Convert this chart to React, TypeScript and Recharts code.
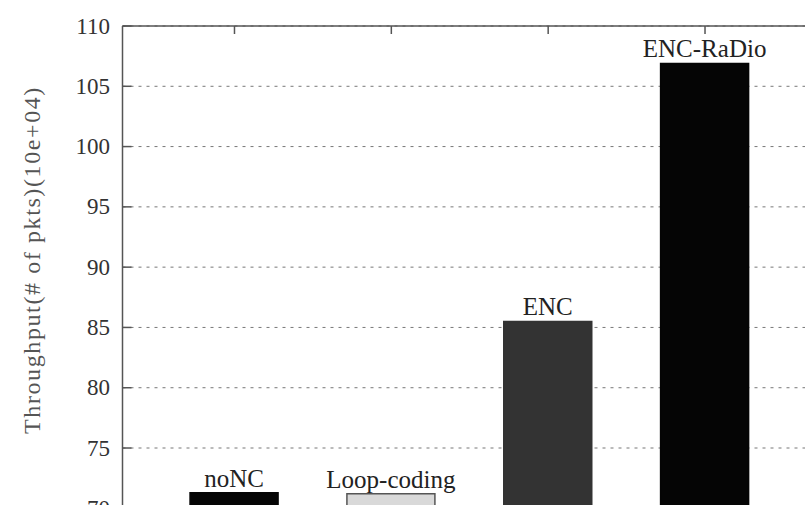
import { BarChart, Bar, XAxis, YAxis, CartesianGrid, LabelList, Cell } from 'recharts'

const schemes = ['noNC', 'Loop-coding', 'ENC', 'ENC-RaDio']
const positions = [1, 2, 3, 4]
const throughput = [71.3, 71.2, 85.5, 106.9]
const barColors = ['#050505', '#d9d9d9', '#333333', '#050505']
const barStrokes = ['#050505', '#555555', '#333333', '#050505']
const yTicks = [70, 75, 80, 85, 90, 95, 100, 105, 110]

const data = schemes.map((name, i) => ({ name, pos: positions[i], value: throughput[i] }))

const serif = '"Liberation Serif", "DejaVu Serif", serif'
const axisStyle = { stroke: '#555', strokeWidth: 1.5 }
const labelGap = 12.5

// tick label plus a short inward tick mark
function YTick(props: any) {
    const { x, y, payload } = props
    const ax = x + labelGap
    return (
        <g>
            <line x1={ax} x2={ax + 9} y1={y} y2={y} stroke="#555" strokeWidth={1.5} />
            <text x={x} y={y} textAnchor="end" dominantBaseline="central" fill="#333" fontSize={23} fontFamily={serif}>
                {payload.value}
            </text>
        </g>
    )
}

export default function App() {
    return (
        <div style={{ position: 'absolute', left: 0, top: 0, width: 805, height: 505, overflow: 'hidden', background: '#fff' }}>
            <BarChart
                width={827}
                height={540}
                data={data}
                margin={{ top: 25, right: 10, left: 0, bottom: 31.7 }}
            >
                <CartesianGrid horizontal vertical={false} stroke="#777" strokeDasharray="3 5" />
                <XAxis
                    dataKey="pos"
                    type="number"
                    orientation="top"
                    domain={[0.286, 4.714]}
                    ticks={positions}
                    height={1}
                    tickSize={-8}
                    tickFormatter={() => ''}
                    axisLine={axisStyle}
                    tickLine={axisStyle}
                    allowDataOverflow
                />
                <YAxis
                    type="number"
                    domain={[70, 110]}
                    ticks={yTicks}
                    width={122.5}
                    tickSize={0}
                    tickMargin={labelGap}
                    axisLine={axisStyle}
                    tickLine={false}
                    allowDataOverflow
                    tick={<YTick />}
                    label={{
                        content: () => (
                            <text
                                transform="translate(32,260) rotate(-90)"
                                textAnchor="middle"
                                dominantBaseline="central"
                                fill="#555"
                                fontSize={24}
                                letterSpacing={1.6}
                                fontFamily={serif}
                            >
                                Throughput(#  of  pkts)(10e+04)
                            </text>
                        ),
                    }}
                />
                <Bar dataKey="value" barSize={88} isAnimationActive={false} strokeWidth={1.5}>
                    {data.map((d, i) => (
                        <Cell key={d.name} fill={barColors[i]} stroke={barStrokes[i]} />
                    ))}
                    <LabelList
                        dataKey="name"
                        position="top"
                        offset={6}
                        fill="#222"
                        fontSize={25}
                        fontFamily={serif}
                    />
                </Bar>
            </BarChart>
        </div>
    )
}
